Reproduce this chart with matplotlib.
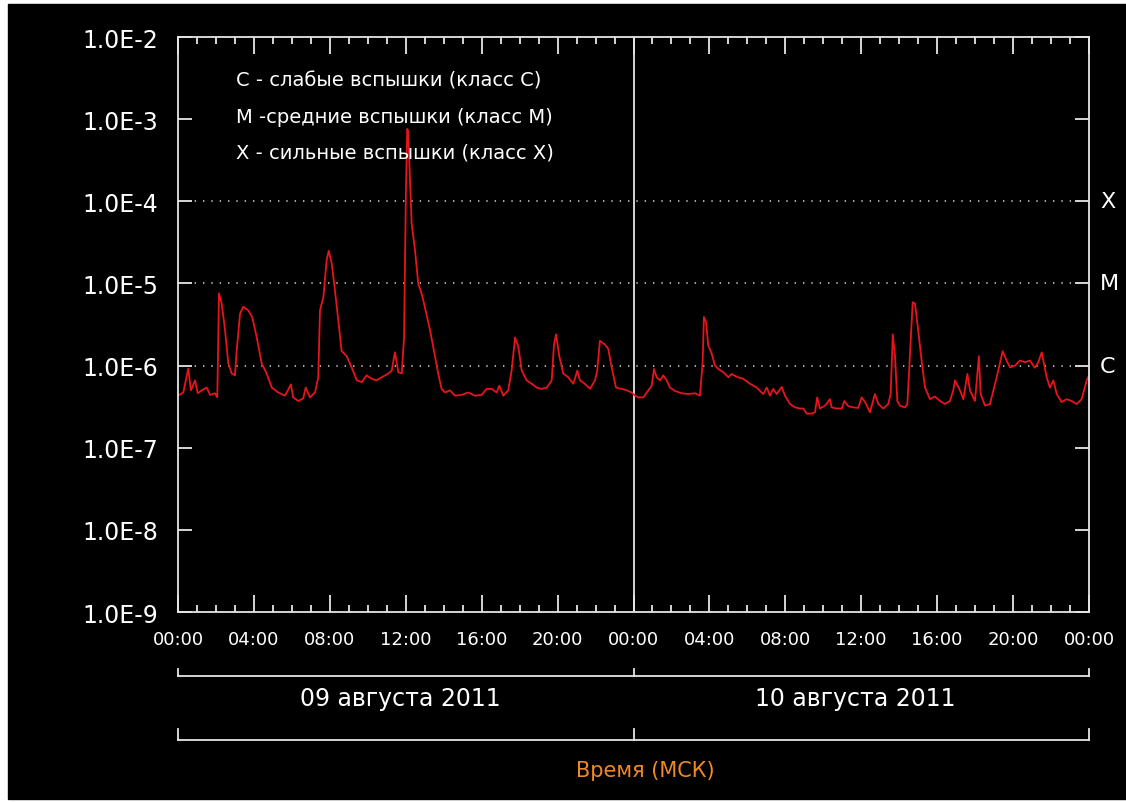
import matplotlib
matplotlib.use('Agg')
import matplotlib.pyplot as plt
from matplotlib.patches import Rectangle
from matplotlib.lines import Line2D

# Hours since 09 Aug 2011 00:00 MSK and X-ray flux (W/m^2).
hours = [
    0.00, 0.28, 0.54, 0.68, 0.90, 1.04, 1.25, 1.51, 1.69, 1.95, 2.07, 2.16,
    2.30, 2.48, 2.65, 2.83, 3.00, 3.09, 3.27, 3.44, 3.70, 3.91, 4.15, 4.41,
    4.67, 4.94, 5.28, 5.64, 5.95, 6.07, 6.34, 6.60, 6.73, 6.95, 7.22, 7.39,
    7.48, 7.66, 7.83, 7.94, 8.10, 8.27, 8.45, 8.62, 8.89, 9.15, 9.42, 9.68,
    9.94, 10.21, 10.47, 10.73, 11.08, 11.26, 11.43, 11.61, 11.79, 11.91,
    12.01, 12.08, 12.13, 12.22, 12.31, 12.49, 12.66, 12.84, 13.01, 13.28,
    13.54, 13.71, 13.89, 14.07, 14.33, 14.59, 14.95, 15.30, 15.65, 16.00,
    16.26, 16.53, 16.79, 16.93, 17.14, 17.40, 17.58, 17.76, 17.93, 18.11,
    18.37, 18.64, 18.90, 19.16, 19.43, 19.69, 19.81, 19.92, 20.09, 20.30,
    20.56, 20.83, 21.04, 21.18, 21.44, 21.71, 21.97, 22.09, 22.23, 22.50,
    22.67, 22.85, 23.08, 23.38, 23.64, 23.90, 24.08, 24.25, 24.52, 24.78,
    24.96, 25.08, 25.22, 25.40, 25.57, 25.75, 25.92, 26.19, 26.54, 26.89,
    27.24, 27.50, 27.64, 27.71, 27.82, 27.94, 28.12, 28.29, 28.47, 28.73,
    29.00, 29.17, 29.44, 29.78, 30.14, 30.49, 30.84, 31.02, 31.19, 31.36,
    31.54, 31.81, 31.98, 32.25, 32.51, 32.77, 32.95, 33.12, 33.39, 33.56,
    33.68, 33.82, 34.09, 34.35, 34.44, 34.70, 34.97, 35.11, 35.32, 35.58,
    35.84, 36.02, 36.20, 36.46, 36.72, 36.90, 37.16, 37.42, 37.55, 37.66,
    37.78, 37.90, 38.04, 38.30, 38.43, 38.57, 38.71, 38.83, 39.00, 39.18,
    39.36, 39.62, 39.88, 40.15, 40.41, 40.67, 40.85, 40.94, 41.20, 41.38,
    41.59, 41.73, 41.99, 42.20, 42.29, 42.52, 42.78, 43.05, 43.22, 43.45,
    43.66, 43.84, 44.10, 44.36, 44.63, 44.89, 45.15, 45.33, 45.51, 45.63,
    45.77, 45.94, 46.12, 46.30, 46.56, 46.82, 47.09, 47.35, 47.61, 47.88,
    48.00]
flux = [
    4.3e-7, 4.7e-7, 9.2e-7, 5.0e-7, 6.6e-7, 4.6e-7, 5.0e-7, 5.4e-7, 4.4e-7,
    4.6e-7, 4.1e-7, 7.6e-6, 5.7e-6, 2.7e-6, 1.06e-6, 8.0e-7, 7.6e-7, 1.5e-6,
    4.3e-6, 5.2e-6, 4.7e-6, 3.9e-6, 2.2e-6, 1.06e-6, 8.0e-7, 5.4e-7, 4.7e-7,
    4.3e-7, 5.9e-7, 4.1e-7, 3.7e-7, 4.0e-7, 5.4e-7, 4.1e-7, 4.7e-7, 7.2e-7,
    4.7e-6, 6.8e-6, 1.9e-5, 2.5e-5, 1.75e-5, 8.2e-6, 3.5e-6, 1.5e-6, 1.3e-6,
    9.5e-7, 6.6e-7, 6.3e-7, 7.6e-7, 6.9e-7, 6.6e-7, 7.2e-7, 8.0e-7, 8.7e-7,
    1.45e-6, 8.3e-7, 8.0e-7, 2.2e-6, 1.4e-4, 7.6e-4, 7.0e-4, 2.0e-4, 5.4e-5,
    2.5e-5, 9.9e-6, 7.5e-6, 5.1e-6, 2.7e-6, 1.3e-6, 8.0e-7, 5.2e-7, 4.7e-7,
    5.0e-7, 4.3e-7, 4.4e-7, 4.7e-7, 4.3e-7, 4.4e-7, 5.2e-7, 5.2e-7, 4.7e-7,
    5.7e-7, 4.3e-7, 5.0e-7, 8.7e-7, 2.2e-6, 1.7e-6, 8.7e-7, 6.6e-7, 6.0e-7,
    5.4e-7, 5.2e-7, 5.4e-7, 6.6e-7, 1.8e-6, 2.4e-6, 1.3e-6, 8.0e-7, 7.2e-7,
    6.0e-7, 8.7e-7, 6.6e-7, 6.0e-7, 5.2e-7, 6.6e-7, 8.7e-7, 2.0e-6, 1.8e-6,
    1.6e-6, 9.5e-7, 5.4e-7, 5.2e-7, 5.0e-7, 4.7e-7, 4.3e-7, 4.1e-7, 4.1e-7,
    5.0e-7, 5.7e-7, 9.1e-7, 7.2e-7, 6.6e-7, 7.6e-7, 6.6e-7, 5.4e-7, 4.9e-7,
    4.6e-7, 4.5e-7, 4.6e-7, 4.3e-7, 1.05e-6, 3.9e-6, 3.4e-6, 1.75e-6, 1.4e-6,
    1.0e-6, 9.1e-7, 8.3e-7, 7.2e-7, 7.9e-7, 7.3e-7, 6.9e-7, 6.0e-7, 5.4e-7,
    4.5e-7, 5.4e-7, 4.3e-7, 5.2e-7, 4.5e-7, 5.5e-7, 4.3e-7, 3.4e-7, 3.1e-7,
    3.0e-7, 3.0e-7, 2.6e-7, 2.6e-7, 2.7e-7, 4.1e-7, 3.0e-7, 3.25e-7, 3.9e-7,
    3.1e-7, 3.0e-7, 3.0e-7, 3.7e-7, 3.2e-7, 3.1e-7, 3.05e-7, 4.1e-7, 3.6e-7,
    2.7e-7, 4.5e-7, 3.4e-7, 3.0e-7, 3.4e-7, 4.5e-7, 2.4e-6, 1.3e-6, 3.7e-7,
    3.25e-7, 3.1e-7, 3.4e-7, 1.4e-6, 5.9e-6, 5.7e-6, 2.7e-6, 1.15e-6, 5.4e-7,
    3.9e-7, 4.2e-7, 3.7e-7, 3.4e-7, 3.7e-7, 5.0e-7, 6.6e-7, 5.0e-7, 3.9e-7,
    7.9e-7, 5.0e-7, 3.7e-7, 1.3e-6, 4.5e-7, 3.25e-7, 3.4e-7, 6.0e-7, 8.7e-7,
    1.5e-6, 1.15e-6, 9.5e-7, 1.0e-6, 1.15e-6, 1.1e-6, 1.15e-6, 9.4e-7, 1.1e-6,
    1.45e-6, 1.05e-6, 7.2e-7, 5.4e-7, 6.6e-7, 4.5e-7, 3.6e-7, 3.9e-7, 3.7e-7,
    3.4e-7, 3.9e-7, 6.6e-7, 7.6e-7]

ytick_values = [1e-9, 1e-8, 1e-7, 1e-6, 1e-5, 1e-4, 1e-3, 1e-2]
ytick_labels = ['1.0E-9', '1.0E-8', '1.0E-7', '1.0E-6', '1.0E-5', '1.0E-4',
                '1.0E-3', '1.0E-2']
xtick_hours = [0, 4, 8, 12, 16, 20, 24, 28, 32, 36, 40, 44, 48]
xtick_labels = ['00:00', '04:00', '08:00', '12:00', '16:00', '20:00',
                '00:00', '04:00', '08:00', '12:00', '16:00', '20:00', '00:00']
class_levels = [1e-6, 1e-5, 1e-4]
class_names = ['C', 'M', 'X']
legend_lines = ['C - слабые вспышки (класс C)',
                'M -средние вспышки (класс M)',
                'X - сильные вспышки (класс X)']
day_bounds = [0, 24, 48]
day_labels = ['09 августа 2011', '10 августа 2011']
axis_title = 'Время (МСК)'

FG = '#e6e6e6'


def bracket(ax, y_line, y_top):
    # Horizontal line under the axis with small upward ticks at day bounds.
    tr = ax.get_xaxis_transform()
    ax.add_line(Line2D([day_bounds[0], day_bounds[-1]], [y_line, y_line],
                       transform=tr, color=FG, lw=1.3, clip_on=False))
    for d in day_bounds:
        ax.add_line(Line2D([d, d], [y_line, y_top], transform=tr, color=FG,
                           lw=1.3, clip_on=False))


def main():
    plt.rcParams['lines.scale_dashes'] = False
    fig = plt.figure(figsize=(11.26, 8.03), dpi=100, facecolor='white')
    # Black panel inside a thin white border.
    fig.add_artist(Rectangle((8 / 1126, 3 / 803), 1118 / 1126, 795 / 803,
                             transform=fig.transFigure, color='black',
                             zorder=-10))
    ax = fig.add_axes([178 / 1126, 1 - 613 / 803, 911 / 1126, 575 / 803])
    ax.set_facecolor('black')
    ax.set_yscale('log')
    ax.set_xlim(0, 48)
    ax.set_ylim(1e-9, 1e-2)

    # Flare class levels (dotted) and day separator.
    for lev in class_levels:
        ax.axhline(lev, color='#d8d8d8', lw=1.1, dashes=(1, 5))
    ax.axvline(24, color=FG, lw=1.3)

    ax.plot(hours, flux, color='#e8141c', lw=1.3)

    for sp in ax.spines.values():
        sp.set_color(FG)
        sp.set_linewidth(1.3)

    ax.set_yticks(ytick_values)
    ax.set_yticklabels(ytick_labels, fontsize=17, color='white')
    ax.yaxis.set_minor_locator(matplotlib.ticker.NullLocator())
    ax.set_xticks(xtick_hours)
    ax.set_xticklabels(xtick_labels, fontsize=13, color='white')
    ax.set_xticks(range(0, 49), minor=True)
    ax.tick_params(axis='x', which='major', direction='in', length=12,
                   width=1.3, color=FG, top=True, pad=13)
    ax.tick_params(axis='x', which='minor', direction='in', length=5,
                   width=1.3, color=FG, top=True)
    ax.tick_params(axis='y', which='major', direction='in', length=10,
                   width=1.3, color=FG, right=True, pad=14)

    # Class letters on the right.
    for lev, name in zip(class_levels, class_names):
        ax.text(1.012, lev, name, transform=ax.get_yaxis_transform(),
                color='white', fontsize=16, ha='left', va='center')

    # Legend text.
    for i, line in enumerate(legend_lines):
        ax.text(0.0637, 0.925 - i * 0.0625, line, transform=ax.transAxes,
                color='white', fontsize=14, ha='left', va='center')

    # Day brackets and labels below the axis.
    bracket(ax, -0.1113, -0.0991)
    bracket(ax, -0.2226, -0.2035)
    tr = ax.get_xaxis_transform()
    for i, lab in enumerate(day_labels):
        mid = (day_bounds[i] + day_bounds[i + 1]) / 2
        ax.text(mid - 0.3, -0.15, lab, transform=tr, color='white',
                fontsize=17, ha='center', va='center')
    ax.text(24.6, -0.275, axis_title, transform=tr, color='#f08a24',
            fontsize=15, ha='center', va='center')

    fig.savefig('out.png', dpi=100, facecolor=fig.get_facecolor())


if __name__ == '__main__':
    main()
